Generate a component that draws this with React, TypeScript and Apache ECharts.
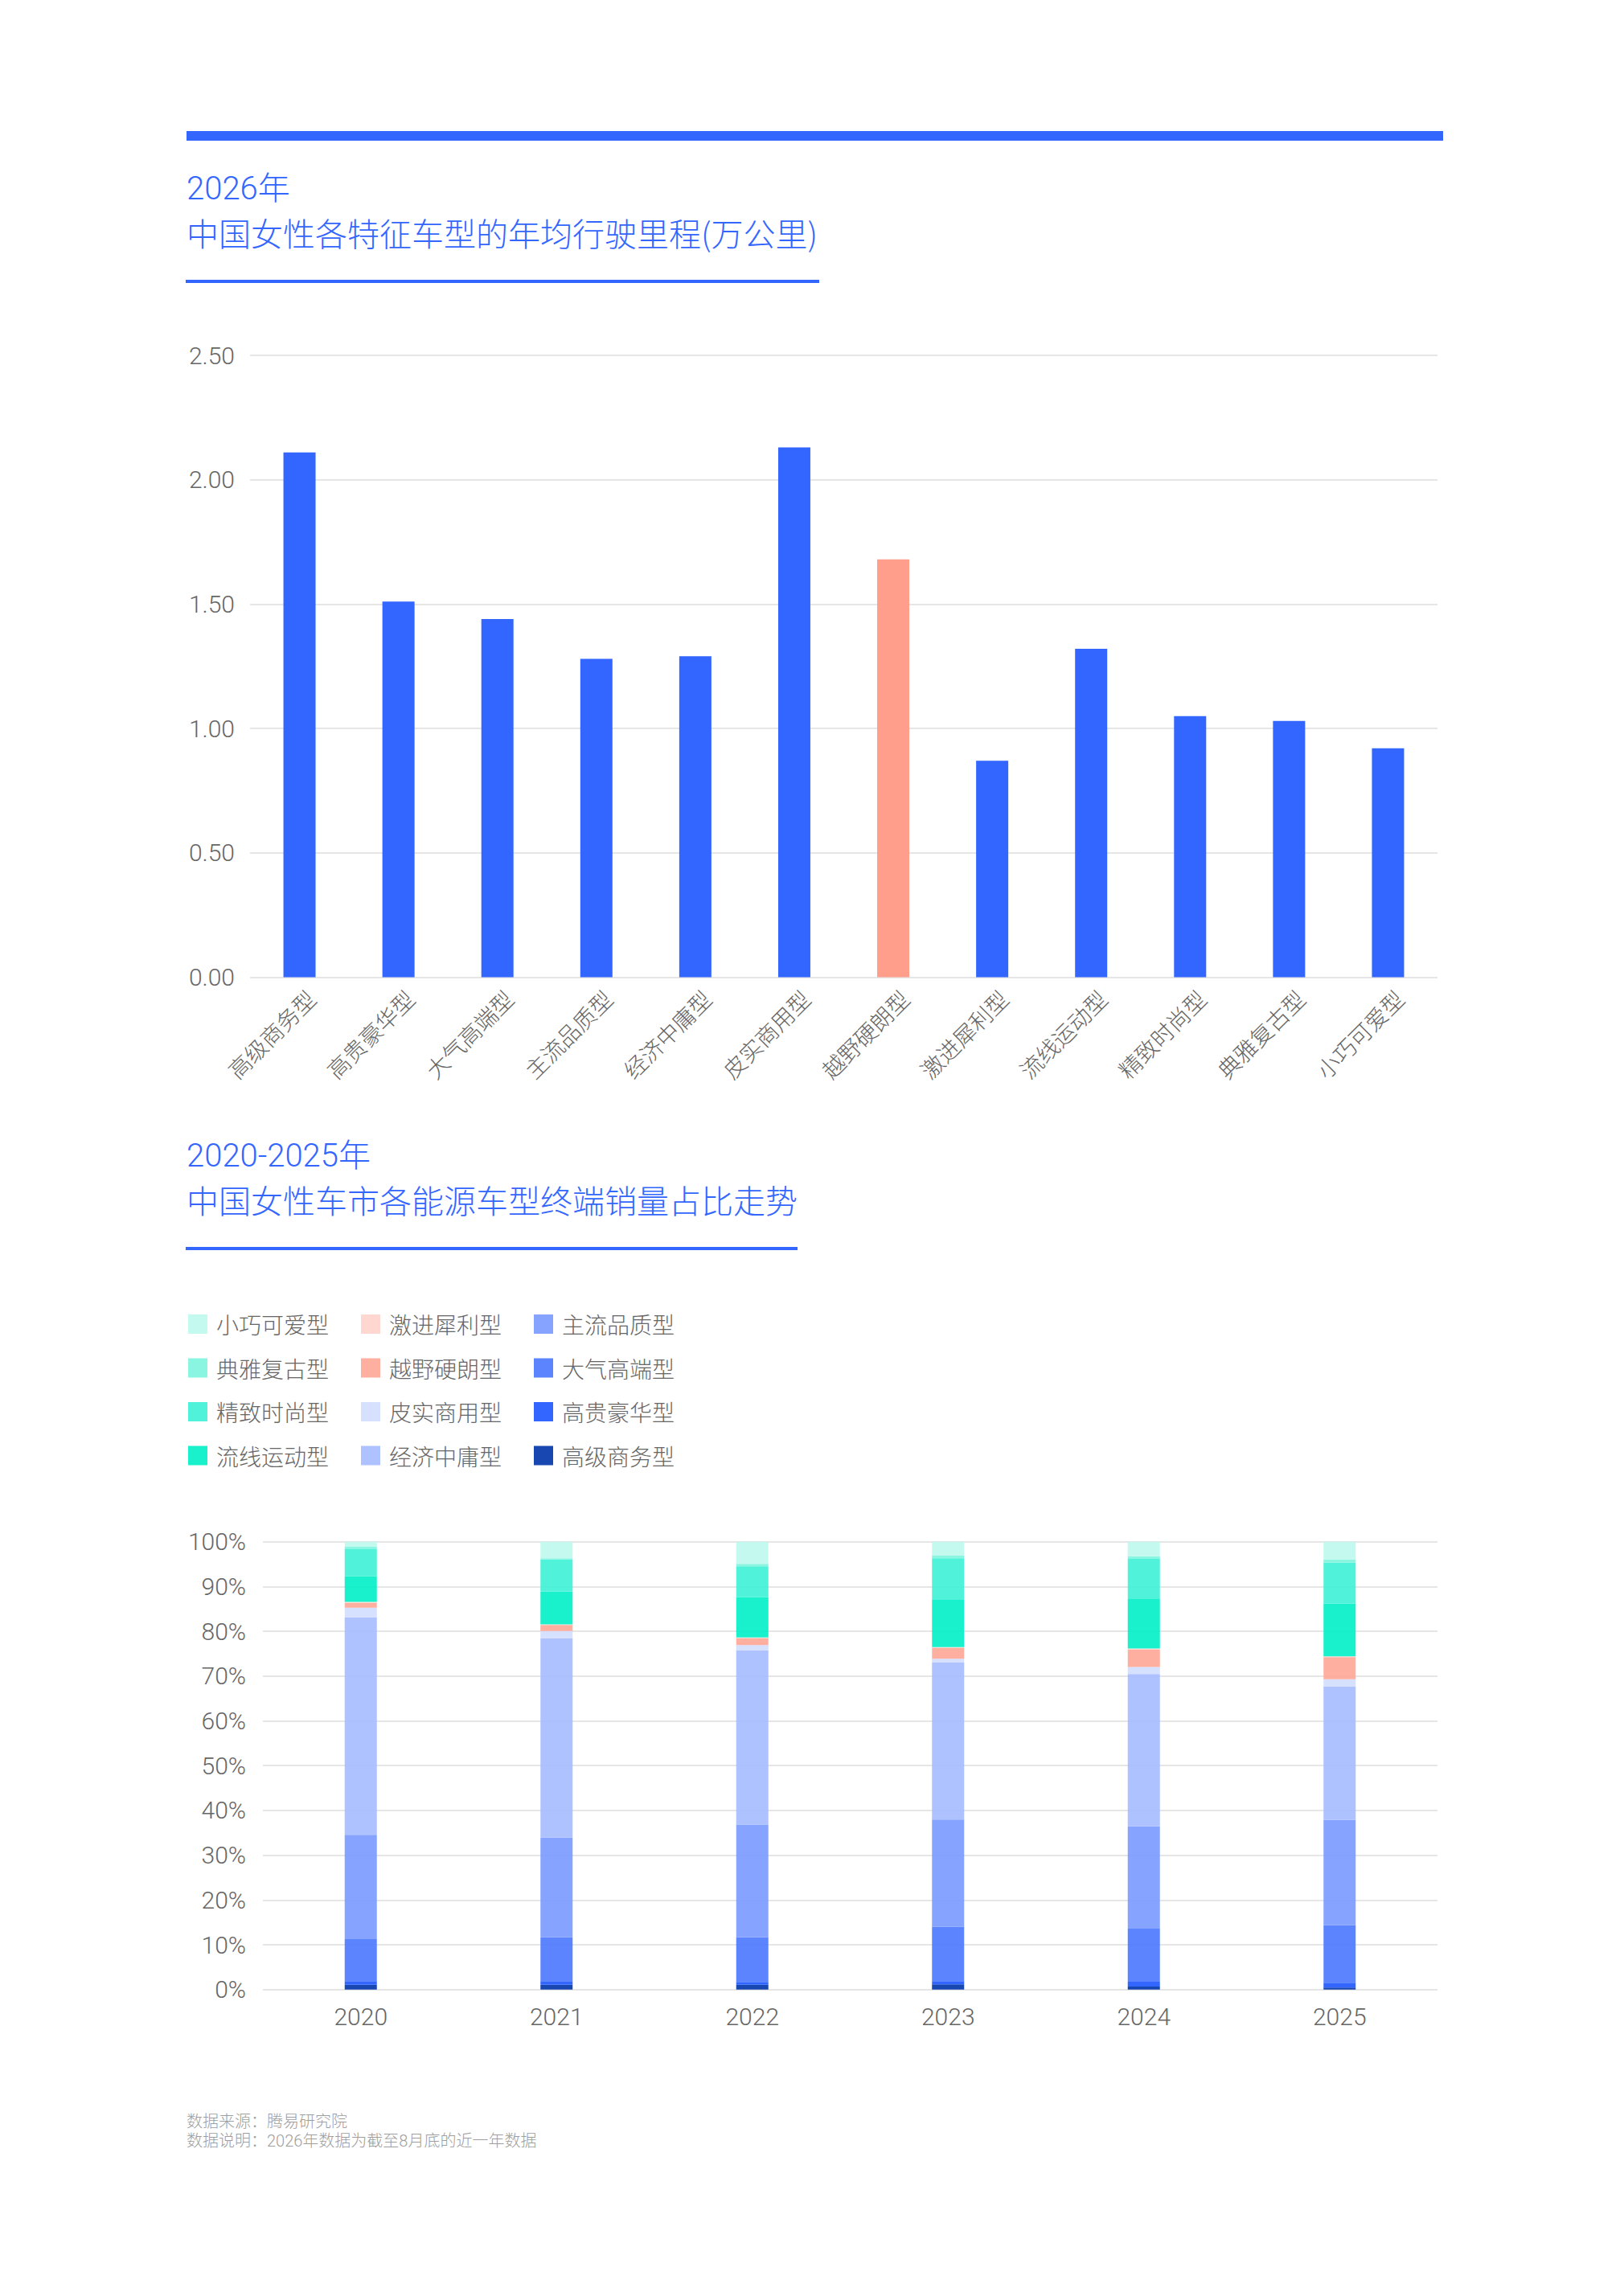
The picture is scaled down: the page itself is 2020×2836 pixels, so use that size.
import React, { useEffect, useRef } from "react";
import * as echarts from "echarts";

// ---------- Chart 1 data ----------
const mileageCategories = [
  "高级商务型", "高贵豪华型", "大气高端型", "主流品质型", "经济中庸型", "皮实商用型",
  "越野硬朗型", "激进犀利型", "流线运动型", "精致时尚型", "典雅复古型", "小巧可爱型",
];
const mileageValues = [2.11, 1.51, 1.44, 1.28, 1.29, 2.13, 1.68, 0.87, 1.32, 1.05, 1.03, 0.92];
const mileageHighlight = "越野硬朗型";
const mileageTicks = [0, 0.5, 1, 1.5, 2, 2.5];

// ---------- Chart 2 data ----------
const years = ["2020", "2021", "2022", "2023", "2024", "2025"];
// stack order bottom -> top
const shareNames = [
  "高级商务型", "高贵豪华型", "大气高端型", "主流品质型", "经济中庸型", "皮实商用型",
  "越野硬朗型", "激进犀利型", "流线运动型", "精致时尚型", "典雅复古型", "小巧可爱型",
];
const share高级商务 = [1.08, 1.08, 1.08, 1.14, 0.66, 0.42];
const share高贵豪华 = [0.78, 0.78, 0.6, 0.72, 1.08, 1.08];
const share大气高端 = [9.39, 9.81, 9.99, 12.2, 11.84, 12.86];
const share主流品质 = [23.28, 22.26, 25.19, 23.88, 22.87, 23.52];
const share经济中庸 = [48.57, 44.52, 38.9, 35.07, 33.99, 29.8];
const share皮实商用 = [2.15, 1.61, 1.14, 0.84, 1.61, 1.62];
const share越野硬朗 = [1.08, 1.37, 1.55, 2.39, 3.89, 4.95];
const share激进犀利 = [0.24, 0.12, 0.18, 0.24, 0.24, 0.15];
const share流线运动 = [5.73, 7.29, 9.01, 10.56, 11.04, 11.75];
const share精致时尚 = [6.03, 7.22, 6.87, 9.26, 8.96, 9.19];
const share典雅复古 = [0.54, 0.24, 0.53, 0.6, 0.6, 0.72];
const share小巧可爱 = [1.13, 3.7, 4.96, 3.1, 3.22, 3.94];
const shareSeriesData = [
  share高级商务, share高贵豪华, share大气高端, share主流品质, share经济中庸, share皮实商用,
  share越野硬朗, share激进犀利, share流线运动, share精致时尚, share典雅复古, share小巧可爱,
];
const shareColors = [
  "#0033AA", "#1C55FF", "#4A77FF", "#799AFF", "#A4BBFF", "#D1DDFF",
  "#FFA695", "#FFD1CB", "#00EEC6", "#3DF2D5", "#7DF4DE", "#BDF8EC",
];
const legendColumns = [
  ["小巧可爱型", "典雅复古型", "精致时尚型", "流线运动型"],
  ["激进犀利型", "越野硬朗型", "皮实商用型", "经济中庸型"],
  ["主流品质型", "大气高端型", "高贵豪华型", "高级商务型"],
];
const percentTicks = [0, 10, 20, 30, 40, 50, 60, 70, 80, 90, 100];

const FONT = "Roboto, 'Noto Sans CJK SC', 'Noto Sans', sans-serif";
const CJK = "'Noto Sans CJK SC', 'Noto Sans', sans-serif";
const BLUE = "#3366FF";
const LABEL = "#666666";
const GRIDLINE = "#E6E6E6";

export default function App() {
  const ref = useRef<HTMLDivElement>(null);

  useEffect(() => {
    if (!ref.current) return;
    const chart = echarts.init(ref.current, undefined, { renderer: "svg" });

    const legendX = [234, 449, 664];
    const legends = legendColumns.map((col, i) => ({
      orient: "vertical",
      left: legendX[i],
      top: 1633,
      padding: 0,
      itemWidth: 24,
      itemHeight: 24,
      itemGap: 26.5,
      icon: "rect",
      selectedMode: false,
      data: col,
      textStyle: {
        fontSize: 28,
        color: LABEL,
        fontFamily: CJK,
        fontWeight: 300,
        padding: [0, 0, 0, 6],
      },
    }));

    const option: any = {
      animation: false,
      backgroundColor: "#ffffff",
      textStyle: { fontFamily: FONT },
      legend: legends,
      grid: [
        { left: 311, top: 442, width: 1477, height: 773.5 },
        { left: 327, top: 1917.7, width: 1461, height: 557 },
      ],
      xAxis: [
        {
          type: "category",
          gridIndex: 0,
          data: mileageCategories,
          axisLine: { show: false },
          axisTick: { show: false },
          axisLabel: {
            rotate: 45,
            fontSize: 28,
            color: LABEL,
            margin: 7,
            lineHeight: 40,
            verticalAlign: "top",
            fontFamily: CJK,
            fontWeight: 300,
            interval: 0,
          },
        },
        {
          type: "category",
          gridIndex: 1,
          data: years,
          axisLine: { show: false },
          axisTick: { show: false },
          axisLabel: { fontSize: 30, color: LABEL, margin: 19, fontFamily: FONT, fontWeight: 300 },
        },
      ],
      yAxis: [
        {
          type: "value",
          gridIndex: 0,
          min: mileageTicks[0],
          max: mileageTicks[mileageTicks.length - 1],
          interval: mileageTicks[1] - mileageTicks[0],
          axisLine: { show: false },
          axisTick: { show: false },
          splitLine: { lineStyle: { color: GRIDLINE, width: 2 } },
          axisLabel: {
            fontSize: 30,
            color: LABEL,
            margin: 19,
            fontFamily: FONT,
            fontWeight: 300,
            formatter: (v: number) => v.toFixed(2),
          },
        },
        {
          type: "value",
          gridIndex: 1,
          min: percentTicks[0],
          max: percentTicks[percentTicks.length - 1],
          interval: percentTicks[1] - percentTicks[0],
          axisLine: { show: false },
          axisTick: { show: false },
          splitLine: { lineStyle: { color: GRIDLINE, width: 2 } },
          axisLabel: {
            fontSize: 30,
            color: LABEL,
            margin: 21,
            fontFamily: FONT,
            fontWeight: 300,
            formatter: "{value}%",
          },
        },
      ],
      series: [
        {
          name: "年均行驶里程",
          type: "bar",
          xAxisIndex: 0,
          yAxisIndex: 0,
          barWidth: 40,
          data: mileageValues,
          itemStyle: {
            color: (p: any) => (p.name === mileageHighlight ? "#FF9E8A" : BLUE),
          },
        },
        ...shareNames.map((name, i) => ({
          name,
          type: "bar",
          stack: "share",
          xAxisIndex: 1,
          yAxisIndex: 1,
          barWidth: 40,
          data: shareSeriesData[i],
          itemStyle: { color: shareColors[i], opacity: 0.9 },
        })),
      ],
      graphic: [
        { type: "rect", shape: { x: 232, y: 163, width: 1563, height: 12 }, style: { fill: BLUE } },
        {
          type: "text",
          x: 232,
          y: 234,
          style: { text: "2026年", fill: BLUE, fontSize: 40, fontFamily: FONT, fontWeight: 300, verticalAlign: "middle" },
        },
        {
          type: "text",
          x: 232,
          y: 289,
          style: {
            text: "中国女性各特征车型的年均行驶里程(万公里)",
            fill: BLUE,
            fontSize: 40,
            fontFamily: CJK,
            fontWeight: 300,
            verticalAlign: "middle",
          },
        },
        { type: "rect", shape: { x: 231, y: 348, width: 788, height: 4 }, style: { fill: BLUE } },
        {
          type: "text",
          x: 232,
          y: 1437,
          style: { text: "2020-2025年", fill: BLUE, fontSize: 40, fontFamily: FONT, fontWeight: 300, verticalAlign: "middle" },
        },
        {
          type: "text",
          x: 232,
          y: 1492,
          style: {
            text: "中国女性车市各能源车型终端销量占比走势",
            fill: BLUE,
            fontSize: 40,
            fontFamily: CJK,
            fontWeight: 300,
            verticalAlign: "middle",
          },
        },
        { type: "rect", shape: { x: 231, y: 1551, width: 761, height: 4 }, style: { fill: BLUE } },
        {
          type: "text",
          x: 232,
          y: 2639,
          style: { text: "数据来源：腾易研究院", fill: "#9E9E9E", fontSize: 20, fontFamily: FONT, fontWeight: 300, verticalAlign: "middle" },
        },
        {
          type: "text",
          x: 232,
          y: 2663,
          style: {
            text: "数据说明：2026年数据为截至8月底的近一年数据",
            fill: "#9E9E9E",
            fontSize: 20,
            fontFamily: FONT,
            fontWeight: 300,
            verticalAlign: "middle",
          },
        },
      ],
    };

    chart.setOption(option);
    return () => chart.dispose();
  }, []);

  return (
    <div
      ref={ref}
      style={{ position: "absolute", left: 0, top: 0, width: 2020, height: 2836, background: "#fff" }}
    />
  );
}
